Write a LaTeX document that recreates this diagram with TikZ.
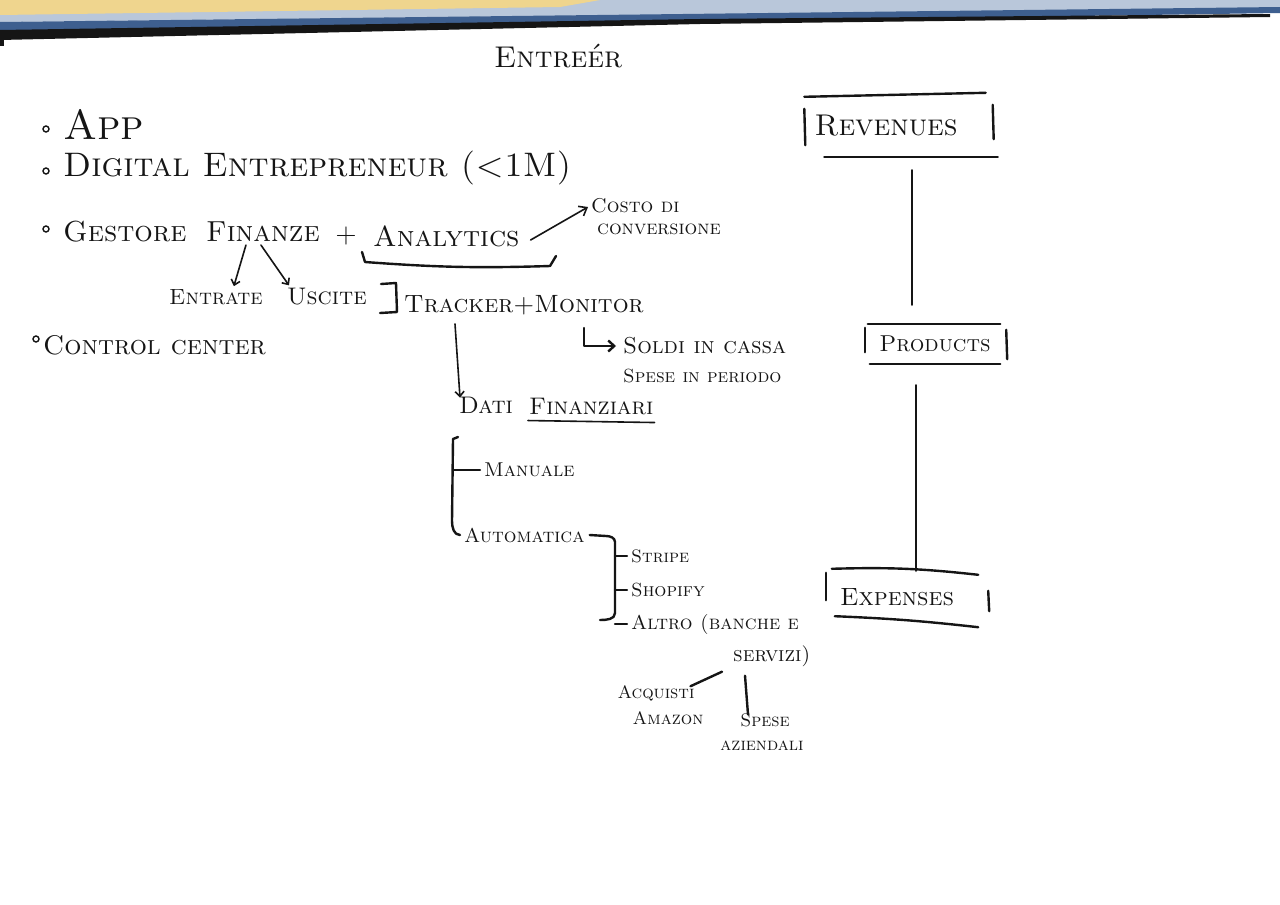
\documentclass[tikz,border=0pt]{standalone}
\usetikzlibrary{arrows.meta,calc}
\definecolor{ink}{HTML}{151515}
\definecolor{bandyellow}{HTML}{EFD58E}
\definecolor{bandblue}{HTML}{3E5F8F}
\definecolor{bandlight}{HTML}{B9C7DA}
\newcommand\hwsize[1]{\fontsize{#1}{#1}\selectfont\scshape}
\tikzset{
  pen/.style={draw=ink, line width=2.4pt, line cap=round, line join=round},
  finepen/.style={draw=ink, line width=1.6pt, line cap=round, line join=round},
  hw/.style={inner sep=1pt, text=ink, anchor=west},
  bullet/.style={draw=ink, line width=1.4pt, circle, inner sep=0pt, minimum size=6pt},
  framebox/.style={inner sep=0pt, text=ink},
}
\begin{document}
\begin{tikzpicture}[x=1pt,y=-1pt]
\useasboundingbox[fill=white] (0,0) rectangle (1280,905);
% photo edge band at the top
\fill[bandlight] (0,0) -- (1280,0) -- (1280,8) -- (0,22) -- cycle;
\fill[bandyellow] (0,0) -- (600,0) -- (560,7) -- (0,15) -- cycle;
\fill[bandblue] (0,22) -- (1280,7) -- (1280,13) -- (0,32) -- cycle;
\fill[ink] (0,30) -- (700,19) -- (1270,14) -- (1270,17) -- (700,24) -- (0,40) -- cycle;
\fill[ink] (0,30) rectangle (4,46);

% title
\node[hw, font=\hwsize{30}] (title) at (493,56) {Entreér};

% bullets and top-left texts
\node[bullet] (b1) at (46,129) {};
\node[hw, font=\hwsize{42}] (app) at (62,124) {App};
\node[bullet] (b2) at (46,171) {};
\node[hw, font=\hwsize{34}] (dig) at (62,168) {Digital Entrepreneur (<1M)};
\node[bullet] (b3) at (46,229) {};
\node[hw, font=\hwsize{29}] (gest) at (62,232) {Gestore};
\node[hw, font=\hwsize{29}] (fin) at (205,232) {Finanze};
\node[hw, font=\hwsize{26}] (plus) at (334,236) {+};
\node[hw, font=\hwsize{29}] (anal) at (372,236) {Analytics};
\node[hw, font=\hwsize{20}, align=left] (costo) at (590,217) {Costo di\\[2pt]\hspace*{6pt}conversione};
\node[hw, font=\hwsize{22}] (ent) at (168,297) {Entrate};
\node[hw, font=\hwsize{24}] (usc) at (286,297) {Uscite};
\node[hw, font=\hwsize{25}] (track) at (403,305) {Tracker+Monitor};
\node[bullet] (b4) at (36,339) {};
\node[hw, font=\hwsize{27}] (ctrl) at (42,345) {Control center};
\node[hw, font=\hwsize{23}] (soldi) at (622,346) {Soldi in cassa};
\node[hw, font=\hwsize{19}] (spese) at (622,376) {Spese in periodo};
\node[hw, font=\hwsize{24}] (dati) at (458,405) {Dati};
\node[hw, font=\hwsize{24}] (finz) at (528,407) {Finanziari};
\node[hw, font=\hwsize{20}] (man) at (483,470) {Manuale};
\node[hw, font=\hwsize{20}] (auto) at (463,535) {Automatica};
\node[hw, font=\hwsize{18}] (stripe) at (630,556) {Stripe};
\node[hw, font=\hwsize{19}] (shop) at (630,590) {Shopify};
\node[hw, font=\hwsize{20}] (altro) at (630,624) {Altro (banche e};
\node[hw, font=\hwsize{21}] (serv) at (732,656) {servizi)};
\node[inner sep=1pt, text=ink, font=\hwsize{18}, align=center] (acq) at (656,705) {Acquisti\\[8pt]\hspace*{24pt}Amazon};
\node[inner sep=1pt, text=ink, font=\hwsize{18}, align=center] (spaz) at (762,732) {\hspace*{6pt}Spese\\[6pt]aziendali};

% right column boxes
\node[framebox, minimum width=193pt, minimum height=62pt, text width=173pt, align=left, font=\hwsize{30}] (rev) at (901,126) {Revenues};
\node[framebox, minimum width=140pt, minimum height=40pt, font=\hwsize{23}] (prod) at (935,344) {Products};
\node[framebox, minimum width=162pt, minimum height=56pt, text width=134pt, align=left, font=\hwsize{25}] (exp) at (907,597) {Expenses};

% frames (sketched)
\draw[pen] ([yshift=-2pt]rev.north west) -- ([xshift=-12pt,yshift=2pt]rev.north east);
\draw[pen] ([xshift=20pt]rev.south west) -- (rev.south east);
\draw[pen] ([yshift=-14pt]rev.north west) -- ([xshift=1pt,yshift=12pt]rev.south west);
\draw[pen] ([xshift=-5pt,yshift=-10pt]rev.north east) -- ([xshift=-4pt,yshift=18pt]rev.south east);

\draw[pen] ([xshift=3pt]prod.north west) -- ([xshift=-5pt]prod.north east);
\draw[pen] ([xshift=5pt]prod.south west) -- ([xshift=-5pt]prod.south east);
\draw[pen] ([yshift=-4pt]prod.north west) -- ([yshift=12pt]prod.south west);
\draw[pen] ([xshift=1pt,yshift=-6pt]prod.north east) -- ([xshift=2pt,yshift=5pt]prod.south east);

\draw[pen] ([xshift=6pt]exp.north west) to[bend left=4] ([xshift=-10pt,yshift=-6pt]exp.north east);
\draw[pen] ([xshift=9pt,yshift=9pt]exp.south west) to[bend left=2] ([xshift=-10pt,yshift=-2pt]exp.south east);
\draw[pen] ([yshift=-4pt]exp.north west) -- ([yshift=25pt]exp.south west);
\draw[pen] ([xshift=0pt,yshift=-22pt]exp.north east) -- ([xshift=1pt,yshift=14pt]exp.south east);

% column connectors
\draw[pen, shorten <=13pt, shorten >=19pt] ([xshift=11pt]rev.south) -- ([xshift=-23pt]prod.north);
\draw[pen, shorten <=21pt] ([xshift=-19pt]prod.south) -- ([xshift=9pt,yshift=-2pt]exp.north);

% Analytics bracket and arrow
\draw[pen] (362,252) -- (365,262) to[bend right=3] (550,266) -- (556,256);
\draw[finepen, -{Straight Barb[length=7pt,width=11pt]}] ([xshift=10pt,yshift=-4pt]anal.east) -- ([xshift=-2pt,yshift=10pt]costo.west);

% Finanze branches
\draw[finepen, -{Straight Barb[length=5pt,width=9pt]}] ([xshift=-17pt,yshift=-2pt]fin.south) -- ([xshift=18pt,yshift=2pt]ent.north);
\draw[finepen, -{Straight Barb[length=5pt,width=9pt]}] ([xshift=-2pt,yshift=-2pt]fin.south) -- ([xshift=-38pt,yshift=2pt]usc.north);

% bracket before Tracker
\draw[pen] (381,284) -- (396,283) -- (397,312) -- (380,313);

% Tracker -> Dati, Tracker -> Soldi
\draw[finepen, -{Straight Barb[length=5pt,width=9pt]}] ([xshift=52pt,yshift=-8pt]track.south west) -- ([xshift=2pt,yshift=-2pt]dati.north west);
\draw[pen, -{Straight Barb[length=6pt,width=11pt]}] ([xshift=181pt,yshift=-12pt]track.south west) |- ([xshift=-6pt]soldi.west);

% underline Finanziari
\draw[finepen] ([yshift=-4pt]finz.south west) -- ([yshift=-6pt]finz.south east);

% Manuale / Automatica bracket
\coordinate (brTop) at (453,439);
\coordinate (brBot) at (452,521);
\draw[pen] (458,437) -- (brTop) -- (brBot) to[out=-90,in=180] ([xshift=-3pt]auto.west);
\draw[pen] (brTop |- man.west) -- ([xshift=-3pt]man.west);

% Automatica -> sources bracket
\coordinate (sbT) at (615,542);
\coordinate (sbB) at (615,613);
\draw[pen] ([xshift=4pt]auto.east) -- (606,536) to[out=0,in=90] (sbT) -- (sbB) to[out=-90,in=0] (600,620);
\draw[pen] (sbT |- stripe.west) -- ([xshift=-3pt]stripe.west);
\draw[pen] (sbT |- shop.west) -- ([xshift=-3pt]shop.west);
\draw[pen] (sbB |- altro.west) -- ([xshift=-3pt]altro.west);

% servizi -> Acquisti Amazon / Spese aziendali
\draw[pen] ([xshift=-10pt,yshift=-4pt]serv.south west) -- ([xshift=-14pt,yshift=-2pt]acq.north east);
\draw[pen] ([xshift=13pt,yshift=-8pt]serv.south west) -- ([xshift=-14pt,yshift=-2pt]spaz.north);
\end{tikzpicture}
\end{document}
